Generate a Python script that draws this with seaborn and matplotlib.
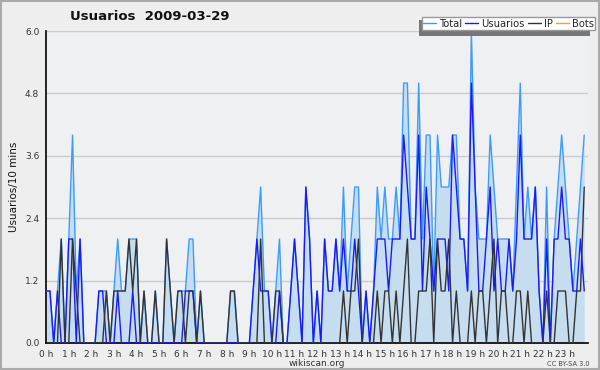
import numpy as np
import pandas as pd
import seaborn as sns
import matplotlib.pyplot as plt
from matplotlib.patches import Rectangle
from matplotlib.ticker import MultipleLocator

# 10-minute slots over the day (144 points)
usuarios = [1, 1, 0, 1, 0, 0, 2, 2, 0, 2, 0, 0, 0, 0, 1, 1, 0, 0, 0, 1, 0, 0, 0, 1,
            0, 0, 0, 0, 0, 0, 0, 0, 0, 0, 0, 0, 0, 1, 1, 1, 0, 0, 0, 0, 0, 0, 0, 0,
            0, 0, 0, 0, 0, 0, 0, 1, 2, 1, 1, 1, 0, 0, 1, 0, 0, 1, 2, 1, 0, 3, 2, 0,
            1, 0, 2, 1, 1, 2, 1, 2, 1, 1, 2, 1, 0, 1, 0, 1, 2, 2, 2, 1, 2, 2, 2, 4,
            3, 2, 2, 4, 1, 3, 2, 1, 2, 2, 2, 1, 4, 3, 2, 2, 1, 5, 3, 1, 1, 2, 3, 1,
            2, 1, 1, 2, 1, 2, 4, 2, 2, 2, 3, 1, 0, 2, 0, 2, 2, 3, 2, 2, 1, 1, 2, 1]
ip = [0, 0, 0, 0, 2, 0, 0, 2, 1, 0, 0, 0, 0, 0, 0, 0, 1, 0, 1, 1, 1, 1, 2, 1,
      2, 0, 1, 0, 0, 1, 0, 0, 2, 1, 0, 1, 1, 0, 1, 1, 0, 1, 0, 0, 0, 0, 0, 0,
      0, 1, 1, 0, 0, 0, 0, 0, 0, 2, 0, 0, 0, 1, 1, 0, 0, 0, 0, 0, 0, 0, 0, 0,
      0, 0, 0, 0, 0, 0, 0, 1, 0, 1, 1, 2, 0, 0, 0, 0, 1, 0, 1, 1, 0, 1, 0, 1,
      2, 0, 0, 1, 1, 1, 2, 0, 2, 1, 1, 2, 0, 1, 0, 0, 0, 1, 0, 1, 1, 0, 1, 2,
      0, 1, 1, 0, 0, 1, 1, 0, 1, 0, 0, 0, 0, 1, 0, 0, 1, 1, 1, 0, 0, 1, 1, 3]
total = [1, 1, 0, 1, 2, 0, 2, 4, 1, 2, 0, 0, 0, 0, 1, 1, 1, 0, 1, 2, 1, 1, 2, 2,
         2, 0, 1, 0, 0, 1, 0, 0, 2, 1, 0, 1, 1, 1, 2, 2, 0, 1, 0, 0, 0, 0, 0, 0,
         0, 1, 1, 0, 0, 0, 0, 1, 2, 3, 1, 1, 0, 1, 2, 0, 0, 1, 2, 1, 0, 3, 2, 0,
         1, 0, 2, 1, 1, 2, 1, 3, 1, 2, 3, 3, 0, 1, 0, 1, 3, 2, 3, 2, 2, 3, 2, 5,
         5, 2, 2, 5, 2, 4, 4, 1, 4, 3, 3, 3, 4, 4, 2, 2, 1, 6, 3, 2, 2, 2, 4, 3,
         2, 2, 2, 2, 1, 3, 5, 2, 3, 2, 3, 1, 0, 3, 0, 2, 3, 4, 3, 2, 1, 2, 3, 4]
bots = [0] * 144
hour_labels = [f"{h} h" for h in range(24)]

df = pd.DataFrame({'slot': np.arange(144), 'Total': total, 'Usuarios': usuarios,
                   'IP': ip, 'Bots': bots})

sns.set_style("white")
plt.rcParams['font.family'] = ['DejaVu Sans']

fig = plt.figure(figsize=(6, 3.7), dpi=100, facecolor='#eeeeee')
ax = fig.add_axes([0.077, 0.073, 0.903, 0.843])
ax.set_facecolor('#eef0f2')

# grid lines
for y in [1.2, 2.4, 3.6, 4.8, 6.0]:
    ax.axhline(y, color='#cccccc', lw=1, zorder=0)

ax.fill_between(df['slot'], df['Total'], color='#c6ddf0', zorder=1, lw=0)
colors = {'Total': '#3d9bff', 'Usuarios': '#1a1aff', 'IP': '#333333', 'Bots': '#ffa500'}
sns.lineplot(data=df, x='slot', y='Bots', ax=ax, color=colors['Bots'], lw=1, label='Bots', zorder=2)
sns.lineplot(data=df, x='slot', y='Total', ax=ax, color=colors['Total'], lw=1, label='Total', zorder=3)
sns.lineplot(data=df, x='slot', y='Usuarios', ax=ax, color=colors['Usuarios'], lw=1, label='Usuarios', zorder=4)
sns.lineplot(data=df, x='slot', y='IP', ax=ax, color=colors['IP'], lw=1, label='IP', zorder=5)

ax.set_xlim(0, 144)
ax.set_ylim(0, 6)
ax.set_xticks(np.arange(0, 144, 6))
ax.set_xticklabels(hour_labels)
ax.xaxis.set_minor_locator(MultipleLocator(1))
ax.set_yticks([0, 1.2, 2.4, 3.6, 4.8, 6.0])
ax.set_yticklabels(['0.0', '1.2', '2.4', '3.6', '4.8', '6.0'])
ax.yaxis.set_minor_locator(MultipleLocator(0.3))
ax.tick_params(axis='both', which='major', direction='out', length=4, width=1,
               labelsize=6.5, colors='black', labelcolor='#333333', pad=1)
ax.tick_params(axis='both', which='minor', direction='out', length=3, width=1, colors='black')
for s in ['top', 'right']:
    ax.spines[s].set_visible(False)
for s in ['left', 'bottom']:
    ax.spines[s].set_color('black')
    ax.spines[s].set_linewidth(1.2)

ax.set_xlabel('wikiscan.org', fontsize=6.5, color='#333333', labelpad=0)
ax.set_ylabel('Usuarios/10 mins', fontsize=7.5, color='#111111', labelpad=4)

fig.text(0.25, 0.955, 'Usuarios  2009-03-29', ha='center', va='center',
         fontsize=9.5, weight='bold', color='#111111')
fig.text(0.983, 0.008, 'CC BY-SA 3.0', ha='right', va='bottom', fontsize=4.8, color='#444444')

# legend with offset shadow (shadow sits left and below)
handles, labels = ax.get_legend_handles_labels()
order = ['Total', 'Usuarios', 'IP', 'Bots']
hmap = dict(zip(labels, handles))
if ax.get_legend():
    ax.get_legend().remove()
fig.patches.append(Rectangle((0.698, 0.903), 0.285, 0.043, transform=fig.transFigure,
                             facecolor='#777777', edgecolor='none', zorder=5))
leg = fig.legend([hmap[k] for k in order], order, ncol=4, loc='upper left',
                 bbox_to_anchor=(0.703, 0.954), fontsize=7.2, frameon=True, fancybox=False,
                 handlelength=1.3, handletextpad=0.3, columnspacing=0.3,
                 borderpad=0.15, borderaxespad=0)
leg.get_frame().set_edgecolor('#999999')
leg.get_frame().set_facecolor('white')
leg.get_frame().set_alpha(1)
leg.set_zorder(10)

# outer border
fig.patches.append(Rectangle((0.002, 0.003), 0.996, 0.994, transform=fig.transFigure,
                             facecolor='none', edgecolor='#aaaaaa', lw=1.5))

fig.savefig('out.png', dpi=100, facecolor=fig.get_facecolor())
